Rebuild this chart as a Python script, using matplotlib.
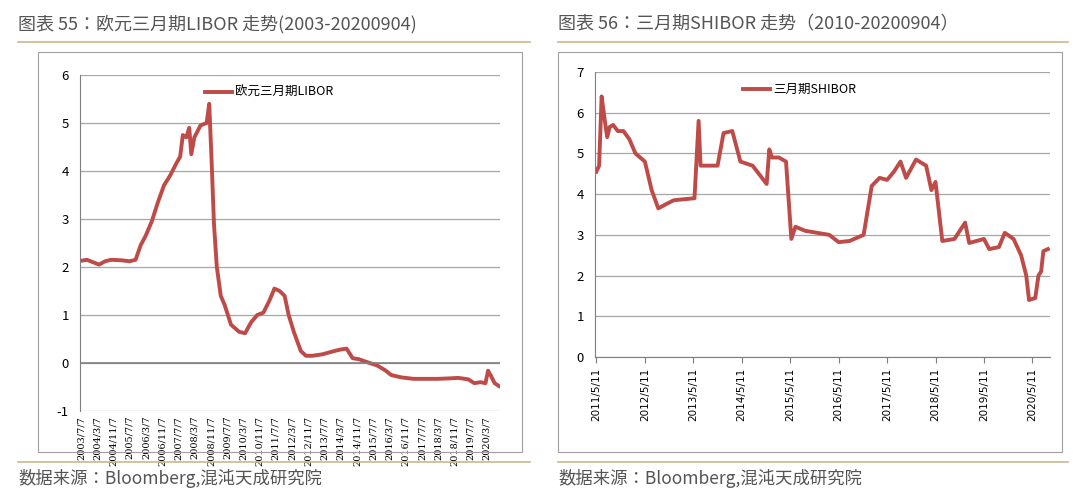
import matplotlib
matplotlib.use("Agg")
import matplotlib.pyplot as plt
from matplotlib import font_manager
import pandas as pd
from matplotlib.patches import Rectangle
from matplotlib.lines import Line2D

cjk = [f.name for f in font_manager.fontManager.ttflist if "CJK" in f.name]
pref = [n for n in cjk if "SC" in n] or cjk
plt.rcParams['font.family'] = (pref[:1] if pref else []) + ['DejaVu Sans']
plt.rcParams['axes.unicode_minus'] = False

libor_dates = ["2003-07-07","2003-10-01","2004-01-01","2004-04-01","2004-07-01","2004-10-01","2005-03-01",
  "2005-07-01","2005-10-01","2005-12-15","2006-03-01","2006-06-01","2006-09-01","2006-12-01","2007-03-01",
  "2007-06-01","2007-08-01","2007-09-10","2007-11-01","2007-12-15","2008-01-15","2008-03-01","2008-06-01",
  "2008-09-01","2008-10-10","2008-11-15","2008-12-20","2009-02-01","2009-04-01","2009-06-01","2009-09-01",
  "2010-01-01","2010-04-01","2010-07-01","2010-10-01","2011-01-01","2011-04-01","2011-06-15","2011-09-01",
  "2011-11-15","2012-01-15","2012-04-01","2012-07-15","2012-10-01","2013-01-01","2013-06-01","2013-12-01",
  "2014-03-01","2014-06-01","2014-09-01","2014-12-01","2015-04-01","2015-09-01","2016-01-01","2016-04-01",
  "2016-09-01","2017-03-01","2017-09-01","2018-03-01","2018-09-01","2019-01-01","2019-06-01","2019-09-01",
  "2019-12-01","2020-02-15","2020-03-25","2020-05-01","2020-07-01","2020-09-04"]
libor_vals = [2.13,2.15,2.10,2.05,2.12,2.15,2.14,2.12,2.15,2.45,2.65,2.95,3.35,3.70,3.90,
  4.15,4.30,4.75,4.70,4.90,4.35,4.70,4.95,5.00,5.40,4.20,2.90,2.00,1.40,1.20,0.80,
  0.65,0.62,0.85,1.00,1.05,1.30,1.55,1.50,1.40,1.00,0.65,0.25,0.15,0.15,0.18,0.25,
  0.28,0.30,0.10,0.08,0.02,-0.05,-0.15,-0.25,-0.30,-0.33,-0.33,-0.33,-0.32,-0.31,-0.34,-0.42,
  -0.40,-0.42,-0.16,-0.25,-0.42,-0.48]

shibor_dates = ["2011-05-11","2011-06-01","2011-06-20","2011-07-10","2011-08-01","2011-08-20","2011-09-15",
  "2011-10-20","2011-12-01","2012-01-15","2012-03-01","2012-05-11","2012-07-01","2012-08-20","2012-10-15",
  "2012-12-15","2013-05-20","2013-06-20","2013-07-05","2013-11-10","2013-12-25","2014-03-01","2014-05-01",
  "2014-08-01","2014-11-15","2014-12-05","2014-12-25","2015-02-15","2015-04-10","2015-05-20","2015-06-20",
  "2015-09-01","2015-12-01","2016-03-01","2016-05-11","2016-08-01","2016-11-15","2017-01-15","2017-03-15",
  "2017-05-11","2017-07-01","2017-08-20","2017-10-01","2017-12-15","2018-03-01","2018-04-10","2018-05-11",
  "2018-07-01","2018-10-01","2018-12-20","2019-01-20","2019-05-11","2019-06-20","2019-09-01","2019-10-15",
  "2019-12-20","2020-02-15","2020-03-25","2020-04-15","2020-06-01","2020-06-25","2020-07-15","2020-08-01","2020-09-04"]
shibor_vals = [4.55,4.70,6.40,5.90,5.40,5.65,5.70,5.55,5.55,5.35,5.00,4.80,4.10,3.65,3.75,
  3.85,3.90,5.80,4.70,4.70,5.50,5.55,4.80,4.70,4.25,5.10,4.90,4.90,4.80,2.90,3.20,
  3.10,3.05,3.00,2.82,2.85,3.00,4.20,4.40,4.35,4.55,4.80,4.40,4.85,4.70,4.10,4.30,
  2.85,2.90,3.30,2.80,2.90,2.65,2.70,3.05,2.90,2.50,2.00,1.40,1.45,2.00,2.10,2.60,2.65]

libor_ticks = [f"{y}/{m}/7" for y, m in
  [(2003,7),(2004,3),(2004,11),(2005,7),(2006,3),(2006,11),(2007,7),(2008,3),(2008,11),(2009,7),
   (2010,3),(2010,11),(2011,7),(2012,3),(2012,11),(2013,7),(2014,3),(2014,11),(2015,7),(2016,3),
   (2016,11),(2017,7),(2018,3),(2018,11),(2019,7),(2020,3)]]
shibor_ticks = [f"{y}/5/11" for y in range(2011, 2021)]

RED = "#BE4B48"
GREY = "#7f7f7f"
fig = plt.figure(figsize=(10.8, 4.95), dpi=100)
W, H = 1080, 495
def ax_rect(x0, y0, x1, y1):
    return [x0 / W, 1 - y1 / H, (x1 - x0) / W, (y1 - y0) / H]

for x, t in [(18, "图表 55：欧元三月期LIBOR 走势(2003-20200904)"), (558, "图表 56：三月期SHIBOR 走势（2010-20200904）")]:
    fig.text(x / W, 1 - 24 / H, t, fontsize=13, color="#555555", va="center", ha="left")
    fig.text(x / W, 1 - 478 / H, "数据来源：Bloomberg,混沌天成研究院", fontsize=12.5, color="#555555", va="center", ha="left")
for x0, x1 in [(18, 530), (558, 1068)]:
    fig.add_artist(Line2D([x0 / W, x1 / W], [1 - 42 / H] * 2, color="#C9B98F", lw=1.2))
    fig.add_artist(Line2D([x0 / W, x1 / W], [1 - 462 / H] * 2, color="#C9B98F", lw=1.2))
for x0, x1 in [(38, 522), (558, 1062)]:
    fig.add_artist(Rectangle((x0 / W, 1 - 452 / H), (x1 - x0) / W, 400 / H, fill=False, ec="#A0A0A0", lw=0.8))

ax = fig.add_axes(ax_rect(80, 75, 500, 411))
ld = pd.to_datetime(libor_dates)
ax.plot(ld, libor_vals, color=RED, lw=2.8, label="欧元三月期LIBOR")
ax.set_ylim(-1, 6)
ax.set_yticks(range(-1, 7))
ax.set_xlim(pd.Timestamp("2003-06-20"), pd.Timestamp("2020-09-20"))
ax.set_xticks(pd.to_datetime([t.replace("/", "-") for t in libor_ticks]))
ax.set_xticklabels(libor_ticks, rotation=90, fontsize=7, family="DejaVu Serif")
ax.axhline(0, color=GREY, lw=1.2)
ax.legend(loc="upper left", bbox_to_anchor=(0.27, 1.0), frameon=False, fontsize=9, handlelength=2.2, handletextpad=0.2)

ax2 = fig.add_axes(ax_rect(595, 72, 1050, 357))
sd = pd.to_datetime(shibor_dates)
ax2.plot(sd, shibor_vals, color=RED, lw=2.8, label="三月期SHIBOR")
ax2.set_ylim(0, 7)
ax2.set_xlim(pd.Timestamp("2011-05-01"), pd.Timestamp("2020-09-20"))
ax2.set_xticks(pd.to_datetime([t.replace("/", "-") for t in shibor_ticks]))
ax2.set_xticklabels(shibor_ticks, rotation=90, fontsize=7.5, family="DejaVu Sans")
ax2.legend(loc="upper left", bbox_to_anchor=(0.3, 1.0), frameon=False, fontsize=9, handlelength=2.2, handletextpad=0.2)

for a in (ax, ax2):
    a.grid(axis="y", color="#A6A6A6", lw=0.9)
    a.set_axisbelow(True)
    for s in ("top", "right"):
        a.spines[s].set_visible(False)
    a.spines["left"].set_color(GREY)
    a.spines["bottom"].set_color(GREY)
    a.tick_params(axis="y", length=0, labelsize=9.5, pad=8)
    a.tick_params(axis="x", color=GREY, length=4)
ax.spines["bottom"].set_visible(False)
ax.tick_params(axis="x", length=0)

fig.savefig("out.png", dpi=100)
